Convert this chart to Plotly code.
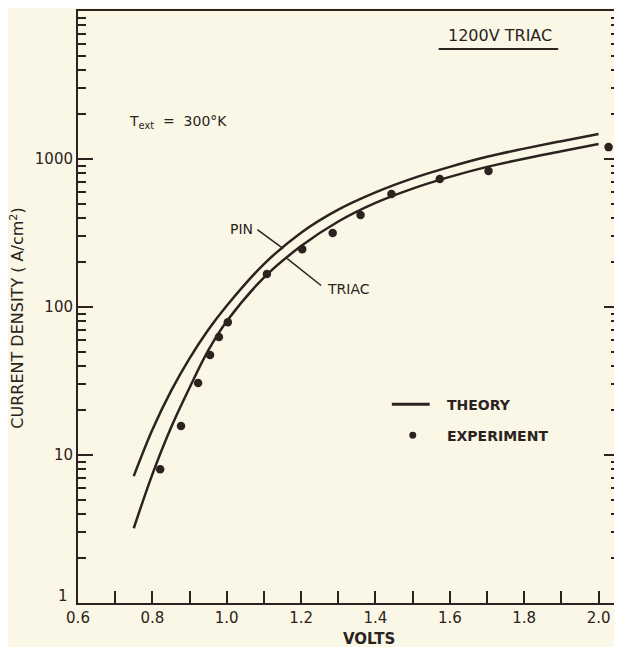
import plotly.graph_objects as go

# ---- data ----
volts_theory = [0.75, 0.80, 0.85, 0.90, 0.95, 1.00, 1.10, 1.20, 1.30,
                1.40, 1.50, 1.60, 1.70, 1.80, 1.90, 2.00]
pin_density = [7.2, 14.8, 27, 45, 70, 102, 195, 318, 455,
               595, 740, 885, 1035, 1175, 1320, 1475]
triac_density = [3.2, 7.4, 15.3, 28.5, 50.7, 80, 158, 258, 378,
                 505, 631, 757, 885, 1005, 1127, 1262]

volts_exp = [0.821, 0.877, 0.923, 0.955, 0.979, 1.003, 1.108, 1.203, 1.285,
             1.36, 1.443, 1.573, 1.704, 2.027]
density_exp = [8.0, 15.7, 30.6, 47.4, 62.7, 79, 167, 246, 316,
               418, 580, 733, 830, 1203]

x_major = [0.6, 0.8, 1.0, 1.2, 1.4, 1.6, 1.8, 2.0]
x_major_text = ["0.6", "0.8", "1.0", "1.2", "1.4", "1.6", "1.8", "2.0"]
x_minor = [0.7, 0.9, 1.1, 1.3, 1.5, 1.7, 1.9]
y_major = [10, 100, 1000]
y_major_text = ["10", "100", "1000"]
y_minor = [k * 10 ** n for n in range(4) for k in range(2, 10)]

INK = "#2a2320"
PAPER = "#fbf7e6"
FONT = "DejaVu Sans"

OFF = 8                       # page body margin
W, H = 614, 639
L, R, T, B = 70, 1, 2, 44
pw, ph = W - L - R, H - T - B


def px(xr):                   # reference-window pixel -> paper
    return (xr - OFF - L) / pw


def py(yr):
    return (H - B - (yr - OFF)) / ph


fig = go.Figure()
for dens in (pin_density, triac_density):
    fig.add_trace(go.Scatter(x=volts_theory, y=dens, mode="lines",
                             line=dict(color=INK, width=2.5, shape="spline",
                                       smoothing=1.0),
                             showlegend=False, hoverinfo="skip"))
fig.add_trace(go.Scatter(x=volts_exp, y=density_exp, mode="markers",
                         marker=dict(color=INK, size=8.5),
                         showlegend=False, cliponaxis=False))

fig.update_xaxes(range=[0.6, 2.055], tickmode="array", tickvals=x_major,
                 ticktext=x_major_text, ticks="inside", ticklen=12, tickwidth=2,
                 tickcolor=INK, showline=True, linecolor=INK, linewidth=2,
                 mirror=True, showgrid=False, zeroline=False,
                 tickfont=dict(family=FONT, size=15, color=INK),
                 minor=dict(tickmode="array", tickvals=x_minor, ticks="inside",
                            ticklen=12, tickwidth=2, tickcolor=INK, showgrid=False))
fig.update_yaxes(type="log", range=[0, 4], tickmode="array", tickvals=y_major,
                 ticktext=y_major_text, ticks="inside", ticklen=15, tickwidth=2,
                 tickcolor=INK, showline=True, linecolor=INK, linewidth=2,
                 mirror="ticks", showgrid=False, zeroline=False,
                 tickfont=dict(family=FONT, size=15, color=INK),
                 minor=dict(tickmode="array", tickvals=y_minor, ticks="inside",
                            ticklen=8, tickwidth=2, tickcolor=INK, showgrid=False))

ann = []
def text(x, y, s, size=15, anchor="center", bold=False, angle=0):
    ann.append(dict(x=px(x), y=py(y), xref="paper", yref="paper",
                    text=f"<b>{s}</b>" if bold else s, showarrow=False,
                    xanchor=anchor, yanchor="middle", textangle=angle,
                    font=dict(family=FONT, size=size, color=INK)))

text(63, 596, "1", size=15)                      # y-axis label at 1
text(370, 639, "VOLTS", size=15, bold=True)
text(17, 318, "CURRENT DENSITY ( A/cm<sup>2</sup>)", size=16, angle=-90)
text(502, 35, "1200V TRIAC", size=16)
text(127, 121, "T<sub>ext</sub>  =  300°K", size=14, anchor="left")
text(256, 228, "PIN", size=14, anchor="right")
text(326, 288, "TRIAC", size=14, anchor="left")
text(446, 405, "THEORY", size=14, anchor="left", bold=True)
text(446, 436, "EXPERIMENT", size=14, anchor="left", bold=True)

shapes = []
def seg(x0, y0, x1, y1, w=1.5):
    shapes.append(dict(type="line", xref="paper", yref="paper",
                       x0=px(x0), y0=py(y0), x1=px(x1), y1=py(y1),
                       line=dict(color=INK, width=w)))

seg(440, 48, 560, 48, 2)          # underline of title
seg(258, 229, 284, 248)           # PIN leader
seg(322, 285, 288, 258)           # TRIAC leader
seg(393, 404, 431, 404, 3)        # legend line
shapes.append(dict(type="circle", xref="paper", yref="paper",
                   x0=px(410.5), x1=px(417.5), y0=py(438.5), y1=py(431.5),
                   fillcolor=INK, line=dict(color=INK, width=0)))

fig.update_layout(width=W, height=H, margin=dict(l=L, r=R, t=T, b=B),
                  paper_bgcolor=PAPER, plot_bgcolor=PAPER,
                  annotations=ann, shapes=shapes, showlegend=False)

fig.write_html("out.html")
